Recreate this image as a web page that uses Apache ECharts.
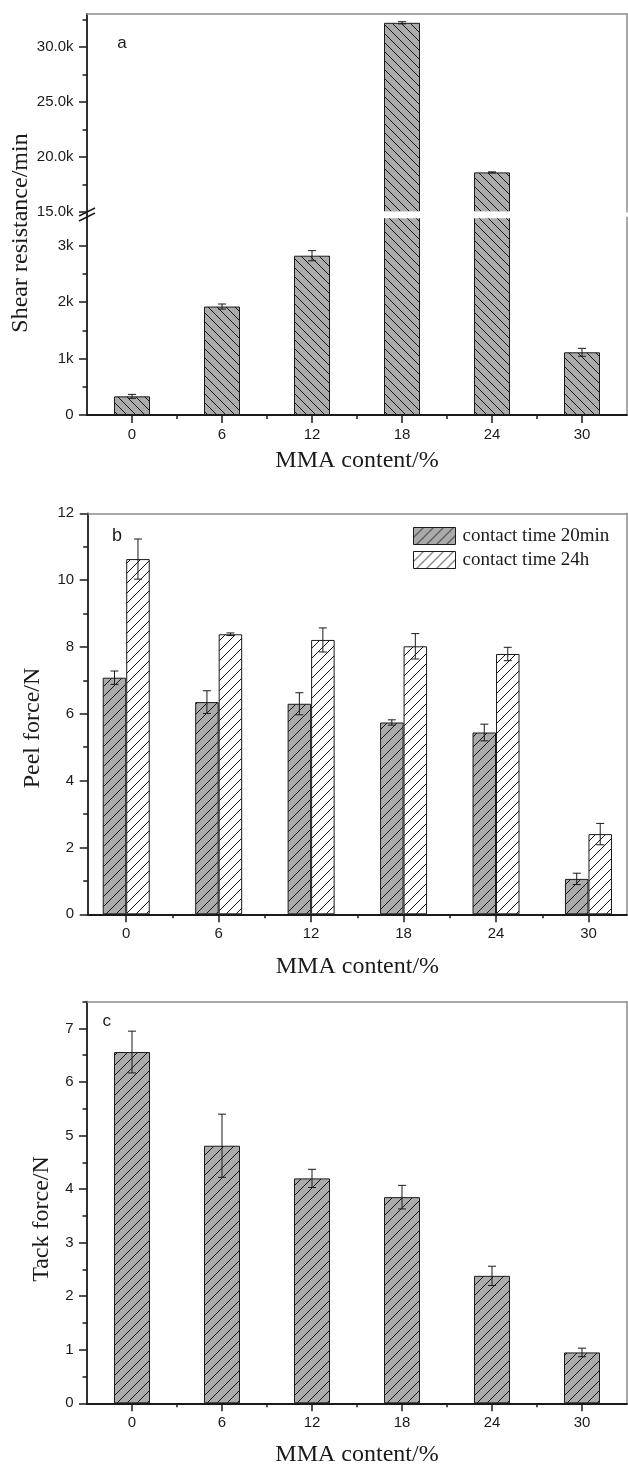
<!DOCTYPE html>
<html><head><meta charset="utf-8">
<script src="https://cdn.jsdelivr.net/npm/echarts@6/dist/echarts.min.js"></script>
<style>html,body{margin:0;padding:0;background:#fff}#c{width:628px;height:1467px}</style>
</head><body><div id="c"></div>
<script>
// ---------- data ----------
const mmaContent = [0, 6, 12, 18, 24, 30];
const shearResistance = [330, 1920, 2820, 32200, 18600, 1110];
const shearError = [35, 45, 90, 100, 50, 70];
const peel20min = [7.08, 6.35, 6.30, 5.74, 5.44, 1.06];
const peel20minError = [0.20, 0.34, 0.33, 0.08, 0.25, 0.17];
const peel24h = [10.63, 8.38, 8.21, 8.02, 7.79, 2.40];
const peel24hError = [0.60, 0.04, 0.36, 0.38, 0.20, 0.32];
const tackForce = [6.56, 4.81, 4.20, 3.85, 2.38, 0.95];
const tackError = [0.39, 0.59, 0.17, 0.22, 0.18, 0.08];

// ---------- ticks ----------
const mmaTicks = [0, 6, 12, 18, 24, 30];
const mmaMinorTicks = [3, 9, 15, 21, 27];
const shearUpperTicks = [15000, 20000, 25000, 30000];
const shearUpperLabels = ['15.0k', '20.0k', '25.0k', '30.0k'];
const shearUpperMinor = [17500, 22500, 27500, 32500];
const shearLowerTicks = [0, 1000, 2000, 3000];
const shearLowerLabels = ['0', '1k', '2k', '3k'];
const shearLowerMinor = [500, 1500, 2500];
const peelTicks = [0, 2, 4, 6, 8, 10, 12];
const peelLabels = ['0', '2', '4', '6', '8', '10', '12'];
const peelMinor = [1, 3, 5, 7, 9, 11];
const tackTicks = [0, 1, 2, 3, 4, 5, 6, 7];
const tackLabels = ['0', '1', '2', '3', '4', '5', '6', '7'];
const tackMinor = [0.5, 1.5, 2.5, 3.5, 4.5, 5.5, 6.5, 7.5];

const SANS = 'Liberation Sans', SERIF = 'Liberation Serif';
const INK = '#1a1a1a', FRAME = '#8c8c8c', GRAY = '#ababab';

function hatch(bg, dir, s) {
  const c = document.createElement('canvas');
  c.width = s; c.height = s;
  const g = c.getContext('2d');
  g.fillStyle = bg; g.fillRect(0, 0, s, s);
  g.strokeStyle = '#151515'; g.lineWidth = 1;
  g.beginPath();
  if (dir === '/') {
    g.moveTo(-1, s + 1); g.lineTo(s + 1, -1);
    g.moveTo(-1, 1); g.lineTo(1, -1);
    g.moveTo(s - 1, s + 1); g.lineTo(s + 1, s - 1);
  } else {
    g.moveTo(-1, -1); g.lineTo(s + 1, s + 1);
    g.moveTo(s - 1, -1); g.lineTo(s + 1, 1);
    g.moveTo(-1, s - 1); g.lineTo(1, s + 1);
  }
  g.stroke();
  return { image: c, repeat: 'repeat' };
}
const fillA = hatch(GRAY, '\\', 9);
const fillGray = hatch(GRAY, '/', 10);
const fillWhite = hatch('#ffffff', '/', 10);

// ---------- axes helpers ----------
function xMain(gi, min, max) {
  return { type: 'value', gridIndex: gi, min, max, position: 'bottom',
    axisLine: { show: true, onZero: false, lineStyle: { color: INK, width: 1.8 } },
    axisTick: { show: true, customValues: mmaTicks, length: 8, lineStyle: { color: INK, width: 1.5 } },
    axisLabel: { show: true, customValues: mmaTicks, margin: 12.5, fontFamily: SANS, fontSize: 15, color: INK,
      formatter: v => String(mmaContent[mmaTicks.indexOf(v)]) },
    splitLine: { show: false } };
}
function xMinor(gi, min, max) {
  return { type: 'value', gridIndex: gi, min, max, position: 'bottom',
    axisLine: { show: false, onZero: false },
    axisTick: { show: true, customValues: mmaMinorTicks, length: 4, lineStyle: { color: INK, width: 1.5 } },
    axisLabel: { show: false }, splitLine: { show: false } };
}
function xFrame(gi, min, max) {
  return { type: 'value', gridIndex: gi, min, max, position: 'top',
    axisLine: { show: true, onZero: false, lineStyle: { color: FRAME, width: 1.5 } },
    axisTick: { show: false }, axisLabel: { show: false }, splitLine: { show: false } };
}
function xHidden(gi, min, max) {
  return { type: 'value', gridIndex: gi, min, max, show: false, splitLine: { show: false } };
}
function yMain(gi, min, max, ticks, labels) {
  return { type: 'value', gridIndex: gi, min, max, position: 'left',
    axisLine: { show: true, onZero: false, lineStyle: { color: INK, width: 1.8 } },
    axisTick: { show: true, customValues: ticks, length: 8, lineStyle: { color: INK, width: 1.5 } },
    axisLabel: { show: true, customValues: ticks, margin: 13.5, fontFamily: SANS, fontSize: 15, color: INK,
      formatter: v => labels[ticks.indexOf(v)] },
    splitLine: { show: false } };
}
function yMinor(gi, min, max, ticks) {
  return { type: 'value', gridIndex: gi, min, max, position: 'left',
    axisLine: { show: false, onZero: false },
    axisTick: { show: true, customValues: ticks, length: 4.5, lineStyle: { color: INK, width: 1.5 } },
    axisLabel: { show: false }, splitLine: { show: false } };
}
function yFrame(gi, min, max) {
  return { type: 'value', gridIndex: gi, min, max, position: 'right',
    axisLine: { show: true, onZero: false, lineStyle: { color: FRAME, width: 1.5 } },
    axisTick: { show: false }, axisLabel: { show: false }, splitLine: { show: false } };
}

// ---------- series helpers ----------
function barSeries(name, xi, yi, ys, width, fill) {
  return { type: 'bar', name, xAxisIndex: xi, yAxisIndex: yi, clip: true,
    data: mmaContent.map((x, i) => [x, ys[i]]),
    barWidth: width, barGap: '0%',
    itemStyle: { color: fill, borderColor: INK, borderWidth: 1 },
    emphasis: { disabled: true }, silent: true, z: 2 };
}
function errSeries(xi, yi, ys, es, offset) {
  return { type: 'custom', xAxisIndex: xi, yAxisIndex: yi, clip: true, silent: true, z: 5,
    data: mmaContent.map((x, i) => (ys[i] === '-' ? [x, '-', '-'] : [x, ys[i] - es[i], ys[i] + es[i]])),
    encode: { x: 0, y: [1, 2] },
    renderItem(params, api) {
      const lo = api.coord([api.value(0), api.value(1)]);
      const hi = api.coord([api.value(0), api.value(2)]);
      const x = lo[0] + offset, cap = 4;
      const st = { stroke: INK, lineWidth: 1 };
      return { type: 'group', children: [
        { type: 'line', shape: { x1: x, y1: lo[1], x2: x, y2: hi[1] }, style: st },
        { type: 'line', shape: { x1: x - cap, y1: lo[1], x2: x + cap, y2: lo[1] }, style: st },
        { type: 'line', shape: { x1: x - cap, y1: hi[1], x2: x + cap, y2: hi[1] }, style: st }
      ] };
    } };
}

const UPPER_MIN = 15000;
const shearUpperVals = shearResistance.map(v => (v >= UPPER_MIN ? v : '-'));

const grids = [
  { left: 87, top: 14, width: 540, height: 198 },
  { left: 87, top: 217.3, width: 540, height: 197.7 },
  { left: 87.7, top: 513.3, width: 539.3, height: 401 },
  { left: 87, top: 1001.7, width: 540, height: 401.6 }
].map(g => Object.assign({ containLabel: false, outerBoundsMode: 'none' }, g));

const xAxes = [
  xHidden(0, -3, 33), xFrame(0, -3, 33),
  xMain(1, -3, 33), xMinor(1, -3, 33),
  xMain(2, -2.5, 32.5), xMinor(2, -2.5, 32.5), xFrame(2, -2.5, 32.5),
  xMain(3, -3, 33), xMinor(3, -3, 33), xFrame(3, -3, 33)
];
const yAxes = [
  yMain(0, 15000, 33000, shearUpperTicks, shearUpperLabels), yMinor(0, 15000, 33000, shearUpperMinor), yFrame(0, 15000, 33000),
  yMain(1, 0, 3500, shearLowerTicks, shearLowerLabels), yMinor(1, 0, 3500, shearLowerMinor), yFrame(1, 0, 3500),
  yMain(2, 0, 12, peelTicks, peelLabels), yMinor(2, 0, 12, peelMinor), yFrame(2, 0, 12),
  yMain(3, 0, 7.5, tackTicks, tackLabels), yMinor(3, 0, 7.5, tackMinor), yFrame(3, 0, 7.5)
];

const series = [
  barSeries('shear upper', 0, 0, shearUpperVals, 36, fillA),
  errSeries(0, 0, shearUpperVals, shearError, 0),
  barSeries('shear lower', 2, 3, shearResistance, 36, fillA),
  errSeries(2, 3, shearResistance, shearError, 0),
  barSeries('contact time 20min', 4, 6, peel20min, 23.5, fillGray),
  barSeries('contact time 24h', 4, 6, peel24h, 23.5, fillWhite),
  errSeries(4, 6, peel20min, peel20minError, -11.75),
  errSeries(4, 6, peel24h, peel24hError, 11.75),
  barSeries('tack', 7, 9, tackForce, 36, fillGray),
  errSeries(7, 9, tackForce, tackError, 0)
];

function txt(text, x, y, size, family, rot) {
  return { type: 'text', x, y, rotation: rot || 0, z: 20, silent: true,
    style: { text, fontSize: size, fontFamily: family, fill: INK, align: 'center', verticalAlign: 'middle' } };
}
const graphics = [
  // white band of the axis break
  { type: 'rect', z: 10, silent: true, shape: { x: 88.6, y: 211.2, width: 537.5, height: 7 }, style: { fill: '#ffffff' } },
  { type: 'line', z: 11, silent: true, shape: { x1: 87, y1: 211, x2: 87, y2: 218 }, style: { stroke: INK, lineWidth: 1.8 } },
  { type: 'line', z: 11, silent: true, shape: { x1: 79, y1: 216, x2: 95, y2: 208 }, style: { stroke: INK, lineWidth: 1.4 } },
  { type: 'line', z: 11, silent: true, shape: { x1: 79, y1: 221, x2: 95, y2: 213 }, style: { stroke: INK, lineWidth: 1.4 } },
  txt('a', 122, 43, 17, SANS),
  txt('b', 117, 536, 18, SANS),
  txt('c', 106.7, 1021.5, 17, SANS),
  txt('MMA content/%', 357, 461, 24, SERIF),
  txt('MMA content/%', 357.4, 967, 24, SERIF),
  txt('MMA content/%', 357, 1455, 24, SERIF),
  txt('Shear resistance/min', 21, 233, 24, SERIF, Math.PI / 2),
  txt('Peel force/N', 33, 728, 24, SERIF, Math.PI / 2),
  txt('Tack force/N', 41.5, 1219, 24, SERIF, Math.PI / 2)
];

const chart = echarts.init(document.getElementById('c'), null, { renderer: 'canvas', width: 628, height: 1467 });
chart.setOption({
  animation: false,
  backgroundColor: '#ffffff',
  grid: grids,
  xAxis: xAxes,
  yAxis: yAxes,
  legend: {
    left: 408, top: 521.5, orient: 'vertical', icon: 'rect',
    itemWidth: 42, itemHeight: 17, itemGap: 5, selectedMode: false,
    itemStyle: { borderColor: INK, borderWidth: 1 },
    textStyle: { fontFamily: SERIF, fontSize: 19, color: INK, padding: [0, 0, 0, 2] },
    data: ['contact time 20min', 'contact time 24h']
  },
  tooltip: { show: false },
  series,
  graphic: graphics
});
</script>
</body></html>
